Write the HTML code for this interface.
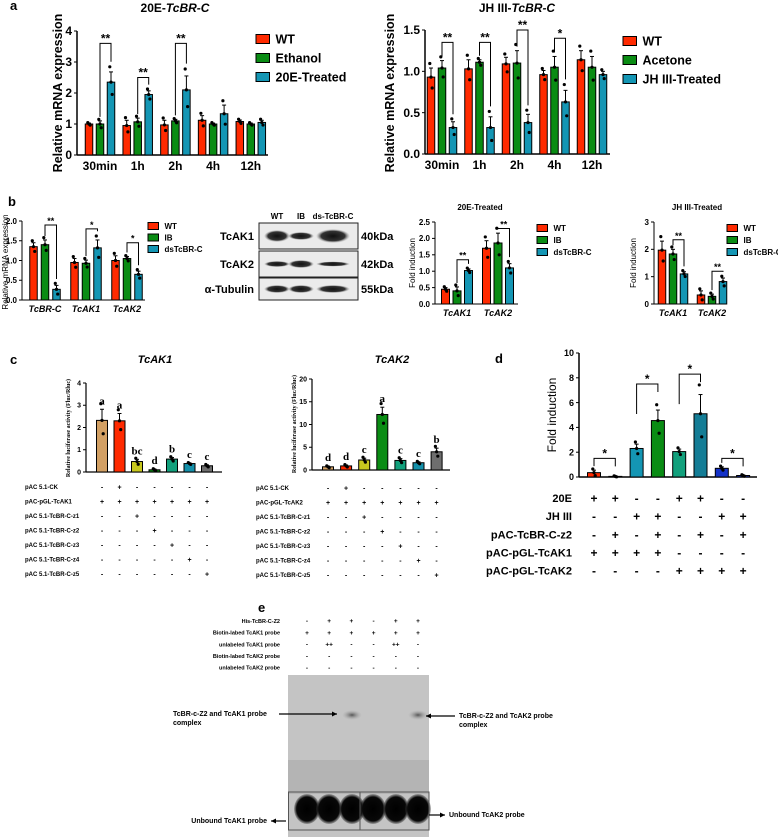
<!DOCTYPE html>
<html><head><meta charset="utf-8"><style>
html,body{margin:0;padding:0;background:#fff;}
svg{display:block;font-family:"Liberation Sans",Arial,sans-serif;}
</style></head><body>
<svg id="fig" width="778" height="838" viewBox="0 0 778 838" xmlns="http://www.w3.org/2000/svg">
<defs>
<radialGradient id="blob" cx="50%" cy="50%" r="50%"><stop offset="0" stop-color="#000"/><stop offset="0.8" stop-color="#080808"/><stop offset="1" stop-color="#333" stop-opacity="0.3"/></radialGradient>
<radialGradient id="wb" cx="50%" cy="50%" r="50%"><stop offset="0" stop-color="#111"/><stop offset="0.7" stop-color="#333"/><stop offset="1" stop-color="#999" stop-opacity="0"/></radialGradient>
<radialGradient id="cplx" cx="50%" cy="50%" r="50%"><stop offset="0" stop-color="#555"/><stop offset="1" stop-color="#aaa" stop-opacity="0"/></radialGradient>
</defs>
</svg>
<script>
// ---------- DATA ----------
const aTimes = ['30min','1h','2h','4h','12h'];
const aLWT = [1.0,0.95,0.97,1.12,1.08];
const aLEth = [1.0,1.07,1.1,1.0,1.0];
const aL20E = [2.35,1.95,2.1,1.33,1.05];
const aLWTerr = [0.03,0.17,0.15,0.15,0.05];
const aLEthErr = [0.1,0.12,0.05,0.03,0.03];
const aL20Eerr = [0.33,0.12,0.45,0.28,0.07];
const aLTicks = [0,1,2,3,4];
const aLSigGroups = [0,1,2];
const aLSigLabels = ['**','**','**'];
const aLSigY = [3.6,2.5,3.6];
const aRWT = [0.93,1.03,1.09,0.96,1.14];
const aRAce = [1.04,1.11,1.1,1.05,1.05];
const aRJH = [0.32,0.32,0.38,0.63,0.96];
const aRWTerr = [0.11,0.11,0.08,0.05,0.11];
const aRAceErr = [0.09,0.03,0.15,0.13,0.13];
const aRJHerr = [0.07,0.13,0.1,0.14,0.04];
const aRTicks = [0,0.5,1.0,1.5];
const aRSigGroups = [0,1,2,3];
const aRSigLabels = ['**','**','**','*'];
const aRSigY = [1.35,1.35,1.5,1.4];
const bGenes = ['TcBR-C','TcAK1','TcAK2'];
const bWT = [1.35,0.95,1.0];
const bIB = [1.4,0.93,1.05];
const bDs = [0.27,1.32,0.65];
const bWTerr = [0.1,0.1,0.12];
const bIBerr = [0.12,0.08,0.05];
const bDsErr = [0.1,0.2,0.08];
const bTicks = [0,0.5,1.0,1.5,2.0];
const bSigLabels = ['**','*','*'];
const bSigY = [1.9,1.8,1.45];
const b2Genes = ['TcAK1','TcAK2'];
const b2WT = [0.45,1.7];
const b2IB = [0.4,1.86];
const b2Ds = [1.02,1.1];
const b2WTerr = [0.05,0.23];
const b2IBerr = [0.12,0.3];
const b2DsErr = [0.05,0.13];
const b2Ticks = [0,0.5,1.0,1.5,2.0,2.5];
const b2SigY = [1.35,2.3];
const b3WT = [1.97,0.33];
const b3IB = [1.83,0.28];
const b3Ds = [1.1,0.82];
const b3WTerr = [0.33,0.15];
const b3IBerr = [0.17,0.08];
const b3DsErr = [0.08,0.13];
const b3Ticks = [0,1,2,3];
const b3SigY = [2.35,1.2];
const cAK1 = [2.32,2.3,0.47,0.1,0.58,0.38,0.28];
const cAK1err = [0.5,0.33,0.1,0.03,0.07,0.03,0.04];
const cAK1Letters = ['a','a','bc','d','b','c','c'];
const cAK1Ticks = [0,1,2,3,4];
const cAK2 = [0.7,0.9,2.2,12.2,2.1,1.6,4.0];
const cAK2err = [0.15,0.2,0.4,1.6,0.4,0.2,0.8];
const cAK2Letters = ['d','d','c','a','c','c','b'];
const cAK2Ticks = [0,5,10,15,20];
const cRowLabelsAK1 = ['pAC 5.1-CK','pAC-pGL-TcAK1','pAC 5.1-TcBR-C-z1','pAC 5.1-TcBR-C-z2','pAC 5.1-TcBR-C-z3','pAC 5.1-TcBR-C-z4','pAC 5.1-TcBR-C-z5'];
const cRowLabelsAK2 = ['pAC 5.1-CK','pAC-pGL-TcAK2','pAC 5.1-TcBR-C-z1','pAC 5.1-TcBR-C-z2','pAC 5.1-TcBR-C-z3','pAC 5.1-TcBR-C-z4','pAC 5.1-TcBR-C-z5'];
const cSigns = [
 ['-','+','-','-','-','-','-'],
 ['+','+','+','+','+','+','+'],
 ['-','-','+','-','-','-','-'],
 ['-','-','-','+','-','-','-'],
 ['-','-','-','-','+','-','-'],
 ['-','-','-','-','-','+','-'],
 ['-','-','-','-','-','-','+']];
const dVals = [0.35,0.05,2.3,4.55,2.05,5.1,0.7,0.12];
const dErr = [0.2,0.03,0.35,0.85,0.2,1.55,0.12,0.04];
const dTicks = [0,2,4,6,8,10];
const dSigPairs = [[0,1],[2,3],[4,5],[6,7]];
const dSigY = [1.5,7.5,8.3,1.5];
const dRowLabels = ['20E','JH III','pAC-TcBR-C-z2','pAC-pGL-TcAK1','pAC-pGL-TcAK2'];
const dSigns = [
 ['+','+','-','-','+','+','-','-'],
 ['-','-','+','+','-','-','+','+'],
 ['-','+','-','+','-','+','-','+'],
 ['+','+','+','+','-','-','-','-'],
 ['-','-','-','-','+','+','+','+']];
const eRowLabels = ['His-TcBR-C-Z2','Biotin-labed TcAK1 probe','unlabeled TcAK1 probe','Biotin-labed TcAK2 probe','unlabeled TcAK2 probe'];
const eSigns = [
 ['-','+','+','-','+','+'],
 ['+','+','+','+','+','+'],
 ['-','++','-','-','++','-'],
 ['-','-','-','-','-','-'],
 ['-','-','-','-','-','-']];

// ---------- HELPERS ----------
const NS='http://www.w3.org/2000/svg';
const root=document.getElementById('fig');
function el(tag,attrs,parent){const e=document.createElementNS(NS,tag);for(const k in attrs)e.setAttribute(k,attrs[k]);(parent||root).appendChild(e);return e;}
function txt(s,x,y,size,opts,parent){opts=opts||{};const t=el('text',{x:x,y:y,'font-size':size,'font-weight':opts.w||'bold','text-anchor':opts.a||'middle',fill:opts.f||'#000'},parent);if(opts.i)t.setAttribute('font-style','italic');if(opts.ff)t.setAttribute('font-family',opts.ff);if(opts.rot)t.setAttribute('transform','rotate(-90 '+x+' '+y+')');t.textContent=s;return t;}
function title2(a,b,x,y,size,name){const t=el('text',{x:x,y:y,'font-size':size,'font-weight':'bold','text-anchor':'middle'});const s1=el('tspan',{},t);s1.textContent=a;const s2=el('tspan',{'font-style':'italic'},t);s2.textContent=b;return t;}
function fmt(v,dec){return dec?v.toFixed(dec):String(v);}

function axes(c){
  const g=el('g',{});
  
  
  const ys=v=>c.y0-(v/c.ymax)*(c.y0-c.yTop);
  el('line',{x1:c.ax,y1:c.y0,x2:c.ax,y2:c.yTop,stroke:'#000','stroke-width':c.sw||1.5},g);
  el('line',{x1:c.ax,y1:c.y0,x2:c.xEnd,y2:c.y0,stroke:'#000','stroke-width':c.sw||1.5},g);
  c.ticks.forEach(v=>{
    el('line',{x1:c.ax-3,y1:ys(v),x2:c.ax,y2:ys(v),stroke:'#000','stroke-width':1},g);
    const t=txt(fmt(v,c.dec),c.ax-5,ys(v)+c.tf*0.35,c.tf,{a:'end'},g);
    
    
  });
  return ys;
}
function bar(x,v,err,bw,color,ys,dots,parent,name){
  const r=el('rect',{x:x-bw/2,y:ys(v),width:bw,height:ys(0)-ys(v),fill:color,stroke:'#000','stroke-width':1},parent);
  
  
  el('line',{x1:x,y1:ys(v),x2:x,y2:ys(v+err),stroke:'#000','stroke-width':1},parent);
  el('line',{x1:x-2,y1:ys(v+err),x2:x+2,y2:ys(v+err),stroke:'#000','stroke-width':1},parent);
  if(dots){[v+err*1.5,v,v-err*1.2].forEach((d,i)=>{el('circle',{cx:x+(i-1)*1.2,cy:ys(Math.max(d,0.01)),r:1.6,fill:'#000'},parent);});}
}
function bracket(x1,x2,yTop,yL,yR,label,fs,parent){
  el('polyline',{points:x1+','+yL+' '+x1+','+yTop+' '+x2+','+yTop+' '+x2+','+yR,fill:'none',stroke:'#000','stroke-width':1},parent);
  const t=txt(label,(x1+x2)/2,yTop-1,fs,{},parent);
  
  
}
function grouped(c){
  const ys=axes(c);
  const g=el('g',{});
  
  
  c.groups.forEach((lab,gi)=>{
    const cx=c.gx0+gi*c.gstep;
    c.series.forEach((s,si)=>{bar(cx+(si-1)*c.pitch,s[gi],c.errs[si][gi],c.bw,c.colors[si],ys,c.dots,g,'bar');});
    const t=txt(lab,cx,c.y0+c.lf+3,c.lf,{i:c.ital},g);
    
    
  });
  c.sigGroups.forEach((gi,k)=>{
    const cx=c.gx0+gi*c.gstep;
    const s1=c.series[1],s2=c.series[2];
    const yT=ys(c.sigY[k]);
    bracket(cx,cx+c.pitch,yT,ys(s1[gi]+c.errs[1][gi])-4,ys(s2[gi]+c.errs[2][gi]*1.6)-4,c.sigLabels[k],c.sf,g);
  });
}
function legend(x,y,step,size,fs,labels,colors,name){
  const g=el('g',{});
  
  
  labels.forEach((l,i)=>{
    const r=el('rect',{x:x,y:y+i*step-size/2,width:size*1.5,height:size,fill:colors[i],stroke:'#000','stroke-width':1},g);
    
    
    const t=txt(l,x+size*1.5+6,y+i*step+fs*0.36,fs,{a:'start',w:'bold'},g);
    
    
  });
}
const RED='#ff2a00',GRN='#0a8c14',TEAL='#1496b4';

// ---------- PANEL A ----------
txt('a',10,10,13,{a:'start'});
title2('20E-','TcBR-C',175,12,12,'panel-a-left-title');
let yt=txt('Relative mRNA expression',62,93,12.5,{rot:true});

grouped({name:'a-left',ax:77,y0:155,yTop:31,ymax:4,ticks:aLTicks,tf:12,xEnd:268,groups:aTimes,
 series:[aLWT,aLEth,aL20E],errs:[aLWTerr,aLEthErr,aL20Eerr],colors:[RED,GRN,TEAL],gx0:100,gstep:37.7,pitch:11,bw:7.5,lf:12,dots:true,
 sigGroups:aLSigGroups,sigLabels:aLSigLabels,sigY:aLSigY,sf:12});
legend(256,39,19,9,12.5,['WT','Ethanol','20E-Treated'],[RED,GRN,TEAL],'legend-a-left');

title2('JH III-','TcBR-C',517,12,12,'panel-a-right-title');
yt=txt('Relative mRNA expression',394,93,12.5,{rot:true});

grouped({name:'a-right',ax:425,y0:154,yTop:30,ymax:1.5,ticks:aRTicks,dec:1,tf:12,xEnd:610,groups:aTimes,
 series:[aRWT,aRAce,aRJH],errs:[aRWTerr,aRAceErr,aRJHerr],colors:[RED,GRN,TEAL],gx0:442,gstep:37.5,pitch:11,bw:7.5,lf:12,dots:true,
 sigGroups:aRSigGroups,sigLabels:aRSigLabels,sigY:aRSigY,sf:12});
legend(623,41,19,9,12.5,['WT','Acetone','JH III-Treated'],[RED,GRN,TEAL],'legend-a-right');

// ---------- PANEL B ----------
txt('b',8,206,13,{a:'start'});
yt=txt('Relative mRNA expression',8,262,8,{rot:true,w:'normal'});

grouped({name:'b-left',ax:22,y0:300,yTop:221,ymax:2,ticks:bTicks,dec:1,tf:8,sw:1,xEnd:145,groups:bGenes,ital:true,
 series:[bWT,bIB,bDs],errs:[bWTerr,bIBerr,bDsErr],colors:[RED,GRN,TEAL],gx0:45,gstep:41,pitch:11.5,bw:7.5,lf:9,dots:true,
 sigGroups:[0,1,2],sigLabels:bSigLabels,sigY:bSigY,sf:9});
legend(148,226,11.5,7,8,['WT','IB','dsTcBR-C'],[RED,GRN,TEAL],'legend-b-left');

const wb=el('g',{});


['WT','IB','ds-TcBR-C'].forEach((l,i)=>{const t=txt(l,[277,301,333][i],219,8,{},wb);});
const wbRows=[[223,249,'TcAK1','40kDa',[6,4,7]],[251,277,'TcAK2','42kDa',[3,4,2.5]],[278,300,'α-Tubulin','55kDa',[4,4,4]]];
wbRows.forEach(r=>{
  el('rect',{x:259,y:r[0],width:99,height:r[1]-r[0],fill:'#ebebeb',stroke:'#222','stroke-width':1},wb);
  [277,301,333].forEach((x,i)=>{el('ellipse',{cx:x,cy:(r[0]+r[1])/2,rx:i==2?17:13,ry:r[4][i],fill:'url(#wb)'},wb);});
  txt(r[2],254,(r[0]+r[1])/2+4,11,{a:'end'},wb);
  txt(r[3],361,(r[0]+r[1])/2+4,11,{a:'start'},wb);
});

txt('20E-Treated',480,210,8,{});
yt=txt('Fold induction',415,263,8,{rot:true,w:'normal'});

grouped({name:'b-20e',ax:435,y0:304,yTop:222,ymax:2.5,ticks:b2Ticks,dec:1,tf:8,sw:1,xEnd:518,groups:b2Genes,ital:true,
 series:[b2WT,b2IB,b2Ds],errs:[b2WTerr,b2IBerr,b2DsErr],colors:[RED,GRN,TEAL],gx0:457,gstep:41,pitch:11.5,bw:8,lf:9,dots:true,
 sigGroups:[0,1],sigLabels:['**','**'],sigY:b2SigY,sf:9});
legend(537,228,12,7,8,['WT','IB','dsTcBR-C'],[RED,GRN,TEAL],'legend-b-20e');

txt('JH III-Treated',697,210,8,{});
yt=txt('Fold induction',636,263,8,{rot:true,w:'normal'});

grouped({name:'b-jh',ax:654,y0:304,yTop:222,ymax:3,ticks:b3Ticks,tf:8,sw:1,xEnd:726,groups:b2Genes,ital:true,
 series:[b3WT,b3IB,b3Ds],errs:[b3WTerr,b3IBerr,b3DsErr],colors:[RED,GRN,TEAL],gx0:673,gstep:39,pitch:11,bw:7.5,lf:9,dots:true,
 sigGroups:[0,1],sigLabels:['**','**'],sigY:b3SigY,sf:9});
legend(727,228,12,7,8,['WT','IB','dsTcBR-C'],[RED,GRN,TEAL],'legend-b-jh');

// ---------- PANEL C ----------
txt('c',10,364,13,{a:'start'});
const cColors=['#d2a064','#ff2a00','#c8c81e','#0a8c14','#12a07c','#1490aa','#6e6e6e'];
function single(c){
  const ys=axes(c);
  const g=el('g',{});
  
  
  c.vals.forEach((v,i)=>{
    const x=c.cx0+i*c.step;
    bar(x,v,c.errs[i],c.bw,c.colors[i],ys,true,g,'bar');
    if(c.letters){const t=txt(c.letters[i],x,ys(v+c.errs[i])-5,11,{ff:'"Liberation Serif",serif'},g);}
  });
  return ys;
}
function table(labels,signs,lx,ly,rowStep,cx0,step,fs,anchor,name){
  const g=el('g',{});
  
  
  labels.forEach((l,r)=>{
    const t=txt(l,lx,ly+r*rowStep+fs*0.35,fs,{a:anchor},g);
    
    
    signs[r].forEach((s,i)=>{const st=txt(s,cx0+i*step,ly+r*rowStep+fs*0.4,fs+1,{},g);});
  });
}
txt('TcAK1',155,363,11,{i:true});
yt=txt('Relative luciferase activity  (Fluc/Rluc)',70,428,6,{rot:true,ff:'"Liberation Serif",serif'});

single({name:'c-ak1',ax:86,y0:472,yTop:383,ymax:4,ticks:cAK1Ticks,tf:7,sw:1.2,xEnd:222,vals:cAK1,errs:cAK1err,letters:cAK1Letters,colors:cColors,cx0:102,step:17.5,bw:11});
table(cRowLabelsAK1,cSigns,25,487,14.5,102,17.5,6,'start','table-c-ak1');

txt('TcAK2',392,363,11,{i:true});
yt=txt('Relative luciferase activity  (Fluc/Rluc)',296,424,6,{rot:true,ff:'"Liberation Serif",serif'});

single({name:'c-ak2',ax:312,y0:470,yTop:379,ymax:20,ticks:cAK2Ticks,tf:7,sw:1.2,xEnd:450,vals:cAK2,errs:cAK2err,letters:cAK2Letters,colors:cColors,cx0:328,step:18.1,bw:11});
table(cRowLabelsAK2,cSigns,256,488,14.5,328,18.1,6,'start','table-c-ak2');

// ---------- PANEL D ----------
txt('d',495,363,13,{a:'start'});
yt=txt('Fold induction',556,415,12,{rot:true,w:'normal'});

const dColors=['#ff2a00','#ff2a00','#1496b4','#0a8c14','#12a07c','#147d96','#1432c8','#1432c8'];
const dys=single({name:'d',ax:579,y0:477,yTop:353,ymax:10,ticks:dTicks,tf:9,sw:1.5,xEnd:757,vals:dVals,errs:dErr,colors:dColors,cx0:594,step:21.3,bw:13});
const dg=el('g',{});


dSigPairs.forEach((p,k)=>{const x1=594+p[0]*21.3,x2=594+p[1]*21.3,yT=dys(dSigY[k]);bracket(x1,x2,yT,Math.min(yT+30,dys(dVals[p[0]]+dErr[p[0]])-4),Math.min(yT+8,dys(dVals[p[1]]+dErr[p[1]])-4),'*',12,dg);});
table(dRowLabels,dSigns,572,498,18.2,594,21.3,11,'end','table-d');

// ---------- PANEL E ----------
txt('e',258,612,13,{a:'start'});
table(eRowLabels,eSigns,280,621,11.7,307,22.2,5.5,'end','table-e');
const gel=el('g',{});


el('rect',{x:288,y:675,width:141,height:162,fill:'#c4c4c4'},gel);
el('rect',{x:288,y:760,width:141,height:34,fill:'#b4b4b4'},gel);
[307,329,352,373,396,418].forEach((x,i)=>{el('ellipse',{cx:x,cy:809,rx:13,ry:15,fill:'url(#blob)'},gel);});
[352,418].forEach(x=>{el('ellipse',{cx:x,cy:715,rx:10,ry:5,fill:'url(#cplx)'},gel);});
el('rect',{x:288.5,y:792,width:71.5,height:38,fill:'none',stroke:'#555','stroke-width':1},gel);
el('rect',{x:360,y:792,width:69,height:38,fill:'none',stroke:'#555','stroke-width':1},gel);
function arrow(x1,x2,y,name){const g=el('g',{});el('line',{x1:x1,y1:y,x2:x2,y2:y,stroke:'#000','stroke-width':1.2},g);const d=x2>x1?-1:1;el('polygon',{points:x2+','+y+' '+(x2+d*5)+','+(y-2.5)+' '+(x2+d*5)+','+(y+2.5),fill:'#000'},g);}
arrow(279,337,714,'arrow-ak1-complex');
arrow(455,426,716,'arrow-ak2-complex');
arrow(286,271,821,'arrow-unbound-ak1');
arrow(429,445,815,'arrow-unbound-ak2');
txt('TcBR-c-Z2 and TcAK1 probe',173,716,7,{a:'start'});
txt('complex',173,725,7,{a:'start'});
txt('TcBR-c-Z2 and TcAK2 probe',459,718,7,{a:'start'});
txt('complex',459,727,7,{a:'start'});
txt('Unbound TcAK1 probe',267,823,7,{a:'end'});
txt('Unbound TcAK2 probe',449,817,7,{a:'start'});
</script>
</body></html>
